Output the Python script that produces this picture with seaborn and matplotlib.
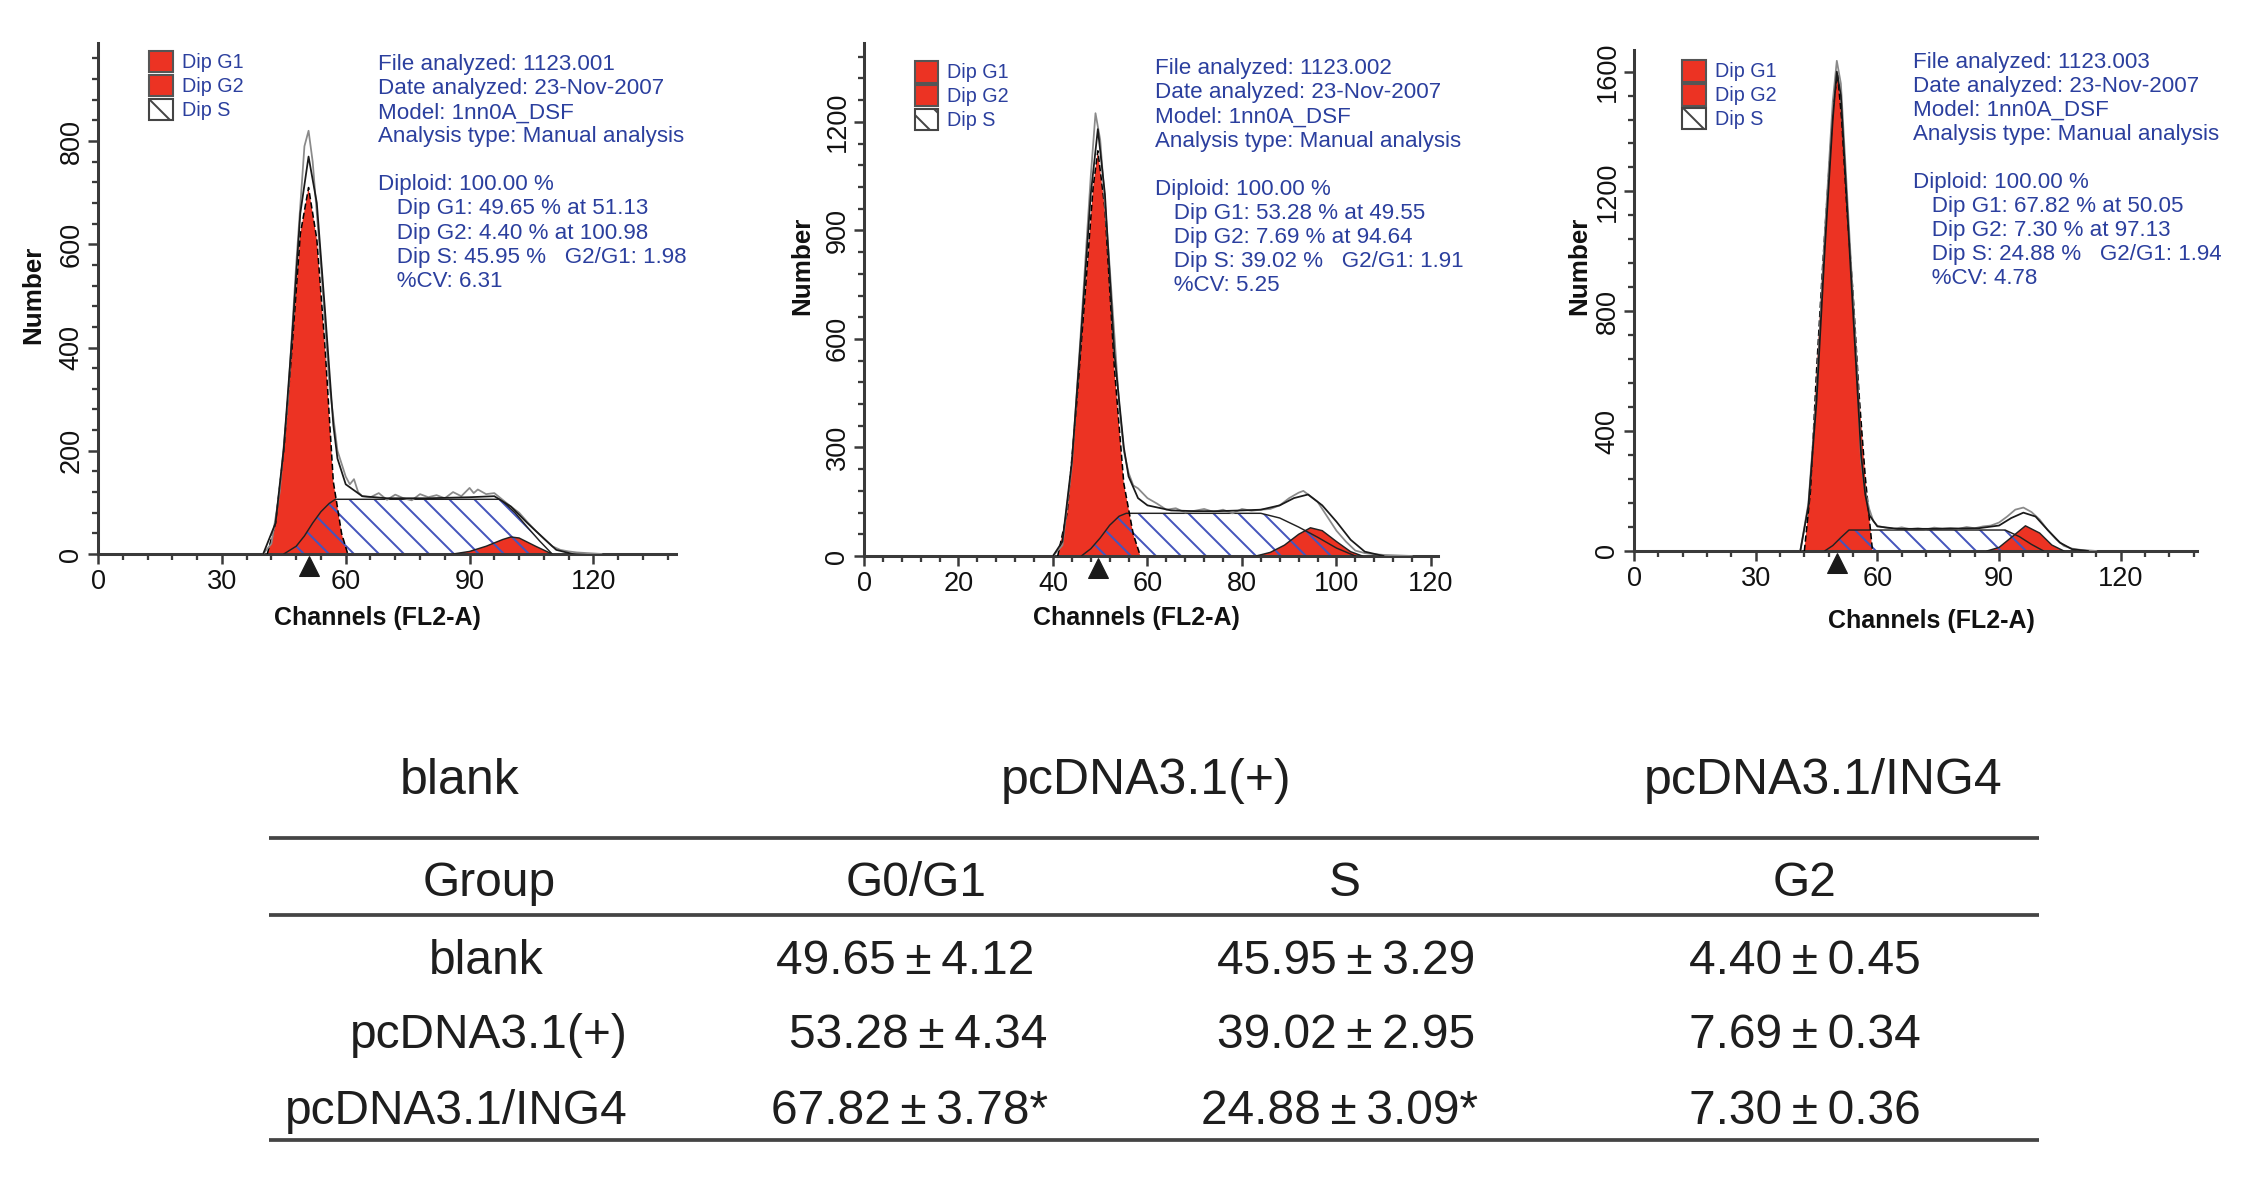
import matplotlib
matplotlib.use("Agg")
import matplotlib.pyplot as plt
import matplotlib.transforms as mtrans
from matplotlib.patches import Patch
from matplotlib.ticker import MultipleLocator
import numpy as np
import pandas as pd
import seaborn as sns

sns.set_style("ticks")
plt.rcParams['font.family'] = ['Liberation Sans', 'DejaVu Sans']
plt.rcParams['hatch.linewidth'] = 1.9

# --- table / annotation values ---
groups = ['blank', 'pcDNA3.1(+)', 'pcDNA3.1/ING4']
file_ids = ['1123.001', '1123.002', '1123.003']
g1_pct = [49.65, 53.28, 67.82]
g1_sd = [4.12, 4.34, 3.78]
s_pct = [45.95, 39.02, 24.88]
s_sd = [3.29, 2.95, 3.09]
g2_pct = [4.40, 7.69, 7.30]
g2_sd = [0.45, 0.34, 0.36]
signif = [False, False, True]
g1_at = [51.13, 49.55, 50.05]
g2_at = [100.98, 94.64, 97.13]
g2g1 = [1.98, 1.91, 1.94]
cv = [6.31, 5.25, 4.78]

# --- histogram curves (channel, count) ---
# blank
p1_g1_ch = [41, 43, 45, 47, 49, 51, 53, 55, 57, 59, 60.5]
p1_g1_n = [0, 60, 200, 400, 620, 710, 610, 400, 140, 40, 0]
p1_s_ch = [45, 48, 50, 52, 54, 56, 57.5, 97.5, 101, 104, 107, 110]
p1_s_n = [0, 15, 35, 60, 82, 98, 106, 106, 80, 52, 25, 0]
p1_g2_ch = [86, 90, 94, 98, 100, 102, 106, 110]
p1_g2_n = [0, 5, 15, 28, 33, 31, 15, 0]
p1_fit_ch = [40, 43, 45, 47, 49, 51, 53, 55, 57, 58, 60, 64, 70, 80, 90, 96, 100, 104, 108, 111, 115]
p1_fit_n = [0, 60, 205, 420, 660, 770, 680, 470, 250, 185, 135, 112, 108, 108, 110, 112, 92, 60, 30, 8, 0]
p1_raw_ch = [40, 42, 44, 46, 48, 50, 51, 52, 54, 56, 58, 60, 61, 62, 63, 64, 66, 68, 70, 72, 74, 76,
             78, 80, 82, 84, 86, 88, 90, 91, 92, 94, 96, 98, 100, 102, 104, 106, 108, 110, 112,
             114, 116, 118, 120, 122]
p1_raw_n = [0, 20, 120, 300, 560, 790, 820, 760, 560, 330, 200, 150, 135, 145, 120, 112, 110, 118,
            105, 115, 108, 104, 116, 110, 114, 108, 120, 112, 128, 118, 125, 116, 118, 105, 92, 80,
            62, 45, 30, 15, 8, 5, 3, 2, 1, 0]

# pcDNA3.1(+)
p2_g1_ch = [41, 43, 45, 47, 48.5, 49.5, 51, 53, 55, 57, 58.5]
p2_g1_n = [0, 120, 420, 760, 1020, 1120, 960, 520, 200, 60, 0]
p2_s_ch = [46, 48, 50, 52, 54, 55.5, 84, 88, 92, 96, 100, 104]
p2_s_n = [0, 20, 50, 85, 110, 118, 118, 105, 80, 52, 22, 0]
p2_g2_ch = [83, 86, 89, 92, 94.5, 97, 100, 103, 105.5]
p2_g2_n = [0, 10, 30, 60, 78, 70, 40, 12, 0]
p2_fit_ch = [40, 42, 44, 46, 48, 49.5, 51, 53, 55, 56, 58, 60, 65, 70, 75, 80, 84, 88, 91, 94,
             97, 100, 103, 106, 110]
p2_fit_n = [0, 40, 260, 620, 1000, 1180, 1000, 560, 300, 220, 160, 140, 126, 124, 124, 126, 128,
            140, 160, 170, 140, 95, 45, 12, 0]
p2_raw_ch = [40, 42, 44, 46, 48, 49, 50, 52, 54, 55, 56, 57, 58, 60, 62, 64, 66, 68, 70, 72, 74,
             76, 78, 80, 82, 84, 86, 88, 90, 92, 93, 94, 96, 98, 100, 102, 104, 106, 108, 110,
             112, 114, 116]
p2_raw_n = [0, 30, 250, 640, 1050, 1224, 1150, 800, 420, 290, 230, 195, 187, 160, 145, 128, 132,
            120, 125, 130, 122, 128, 118, 130, 125, 128, 130, 140, 160, 175, 180, 170, 150, 110,
            70, 40, 15, 8, 5, 3, 2, 1, 0]

# pcDNA3.1/ING4
p3_g1_ch = [42, 43.5, 45, 46.5, 48, 49.2, 50.2, 51.2, 52.5, 54, 55.5, 57, 58.8]
p3_g1_n = [0, 200, 600, 950, 1260, 1500, 1590, 1440, 1140, 860, 520, 250, 0]
p3_s_ch = [47, 49, 51, 53, 91.5, 95, 98, 101]
p3_s_n = [0, 18, 45, 70, 70, 48, 22, 0]
p3_g2_ch = [87, 90, 93, 96.5, 100, 103, 106]
p3_g2_n = [0, 12, 45, 84, 60, 20, 0]
p3_fit_ch = [41, 43, 45, 47, 49, 50, 51, 53, 55, 56, 57, 58, 60, 65, 75, 85, 90, 93, 96, 99,
             102, 105, 108, 112]
p3_fit_n = [0, 150, 500, 1000, 1440, 1600, 1520, 1040, 560, 320, 190, 120, 82, 74, 74, 76, 85,
            110, 128, 115, 70, 28, 6, 0]
p3_raw_ch = [41, 43, 45, 47, 49, 50, 51, 53, 55, 56, 57, 58, 59, 60, 62, 64, 66, 68, 70, 72, 74,
             76, 78, 80, 82, 84, 86, 88, 90, 92, 94, 96, 98, 100, 102, 104, 106, 108, 110, 112, 114]
p3_raw_n = [0, 160, 520, 1050, 1500, 1636, 1560, 1080, 600, 300, 200, 140, 100, 84, 78, 74, 79,
            73, 76, 72, 78, 75, 77, 74, 80, 76, 82, 85, 95, 115, 138, 145, 130, 105, 70, 40, 17,
            8, 4, 2, 0]

panels = [
    dict(g1=(p1_g1_ch, p1_g1_n), s=(p1_s_ch, p1_s_n), g2=(p1_g2_ch, p1_g2_n),
         fit=(p1_fit_ch, p1_fit_n), raw=(p1_raw_ch, p1_raw_n),
         rect=(98, 43, 676, 554), xlim=140, ylim=990, xstep=30, ystep=200,
         leg=(0.088, 0.985), txt=(0.485, 0.978), ylab=(-0.112, 0.507), xlab=(0.483, -0.125)),
    dict(g1=(p2_g1_ch, p2_g1_n), s=(p2_s_ch, p2_s_n), g2=(p2_g2_ch, p2_g2_n),
         fit=(p2_fit_ch, p2_fit_n), raw=(p2_raw_ch, p2_raw_n),
         rect=(864, 43, 1438, 556), xlim=121.5, ylim=1418, xstep=20, ystep=300,
         leg=(0.088, 0.965), txt=(0.507, 0.97), ylab=(-0.107, 0.566), xlab=(0.474, -0.12)),
    dict(g1=(p3_g1_ch, p3_g1_n), s=(p3_s_ch, p3_s_n), g2=(p3_g2_ch, p3_g2_n),
         fit=(p3_fit_ch, p3_fit_n), raw=(p3_raw_ch, p3_raw_n),
         rect=(1634, 50, 2197, 551), xlim=138.8, ylim=1672, xstep=30, ystep=400,
         leg=(0.085, 0.98), txt=(0.495, 0.996), ylab=(-0.097, 0.569), xlab=(0.528, -0.14)),
]

W, H, DPI = 2244, 1181, 75
RED = '#EC3323'
HATCH = '#4555bd'
BLUE_TXT = '#2b3f9e'
AXC = '#3a3a3a'

fig = plt.figure(figsize=(W / DPI, H / DPI), dpi=DPI)
fig.patch.set_facecolor('white')

for i, p in enumerate(panels):
    l, t, r, b = p['rect']
    ax = fig.add_axes([l / W, 1 - b / H, (r - l) / W, (b - t) / H])
    ax.set_facecolor('none')

    g1 = pd.DataFrame({'ch': p['g1'][0], 'n': p['g1'][1]})
    s = pd.DataFrame({'ch': p['s'][0], 'n': p['s'][1]})
    g2 = pd.DataFrame({'ch': p['g2'][0], 'n': p['g2'][1]})
    fit = pd.DataFrame({'ch': p['fit'][0], 'n': p['fit'][1]})
    raw = pd.DataFrame({'ch': p['raw'][0], 'n': p['raw'][1]})

    ax.fill_between(g1['ch'], 0, g1['n'], facecolor=RED, edgecolor='none', zorder=1)
    ax.fill_between(g2['ch'], 0, g2['n'], facecolor=RED, edgecolor='none', zorder=1)
    ax.fill_between(s['ch'], 0, s['n'], facecolor='none', edgecolor=HATCH, hatch='\\',
                    linewidth=0, zorder=2)

    sns.lineplot(data=s, x='ch', y='n', ax=ax, color='#222222', lw=1.4, sort=False,
                 estimator=None, zorder=3)
    sns.lineplot(data=g2, x='ch', y='n', ax=ax, color='#222222', lw=1.4, sort=False,
                 estimator=None, zorder=3)
    sns.lineplot(data=g1, x='ch', y='n', ax=ax, color='black', lw=1.5, ls=(0, (4, 2)),
                 sort=False, estimator=None, zorder=3)
    sns.lineplot(data=raw, x='ch', y='n', ax=ax, color='#8a8a8a', lw=1.7, sort=False,
                 estimator=None, zorder=4)
    sns.lineplot(data=fit, x='ch', y='n', ax=ax, color='#1a1a1a', lw=1.7, sort=False,
                 estimator=None, zorder=4)

    # G1 mean marker under the axis
    trans = mtrans.blended_transform_factory(ax.transData, ax.transAxes)
    ax.plot([g1_at[i]], [-0.024], marker='^', ms=19, color='#1a1a1a', transform=trans,
            clip_on=False, zorder=6)

    ax.set_xlim(0, p['xlim'])
    ax.set_ylim(0, p['ylim'])
    ax.xaxis.set_major_locator(MultipleLocator(p['xstep']))
    ax.xaxis.set_minor_locator(MultipleLocator(p['xstep'] / 5))
    ax.yaxis.set_major_locator(MultipleLocator(p['ystep']))
    ax.yaxis.set_minor_locator(MultipleLocator(p['ystep'] / 5))
    ax.tick_params(which='major', length=10, width=2.4, color=AXC, labelsize=26,
                   labelcolor='#111111', pad=4)
    ax.tick_params(which='minor', length=6, width=2.2, color=AXC)
    ax.tick_params(axis='y', labelrotation=90, pad=3)
    for lab in ax.get_yticklabels():
        lab.set_va('center')
    sns.despine(ax=ax)
    for sp in ['left', 'bottom']:
        ax.spines[sp].set_color(AXC)
        ax.spines[sp].set_linewidth(2.9)

    ax.set_xlabel('Channels (FL2-A)', fontsize=24, fontweight='bold', color='#111111')
    ax.set_ylabel('Number', fontsize=25, fontweight='bold', color='#111111')
    ax.xaxis.set_label_coords(*p['xlab'])
    ax.yaxis.set_label_coords(*p['ylab'])
    ax.xaxis.label.set_va('center')
    ax.yaxis.label.set_va('center')

    handles = [Patch(facecolor=RED, edgecolor='#555555', lw=2.0, label='Dip G1'),
               Patch(facecolor=RED, edgecolor='#555555', lw=2.0, label='Dip G2'),
               Patch(facecolor='white', edgecolor='#444444', lw=2.0, hatch='\\', label='Dip S')]
    ax.legend(handles=handles, loc='upper left', bbox_to_anchor=p['leg'], frameon=False,
              fontsize=19, labelcolor=BLUE_TXT, handlelength=1.2, handleheight=1.3,
              labelspacing=0.12, handletextpad=0.45, borderpad=0, borderaxespad=0)

    info = (f"File analyzed: {file_ids[i]}\n"
            f"Date analyzed: 23-Nov-2007\n"
            f"Model: 1nn0A_DSF\n"
            f"Analysis type: Manual analysis\n\n"
            f"Diploid: 100.00 %\n"
            f"   Dip G1: {g1_pct[i]:.2f} % at {g1_at[i]:.2f}\n"
            f"   Dip G2: {g2_pct[i]:.2f} % at {g2_at[i]:.2f}\n"
            f"   Dip S: {s_pct[i]:.2f} %   G2/G1: {g2g1[i]:.2f}\n"
            f"   %CV: {cv[i]:.2f}")
    ax.text(p['txt'][0], p['txt'][1], info, transform=ax.transAxes, ha='left', va='top',
            fontsize=21.5, color=BLUE_TXT, linespacing=1.19)

# --- summary table under the histograms ---
tax = fig.add_axes([0, 0, 1, 1])
tax.set_xlim(0, W)
tax.set_ylim(H, 0)
tax.axis('off')

TXT = '#1e1e1e'
FS = 46
title_x = [460, 1146, 1823]
for name, x in zip(groups, title_x):
    tax.text(x, 781, name, ha='center', va='center', fontsize=48, color=TXT)

for y in [838, 915, 1140]:
    tax.plot([269, 2039], [y, y], color='#444444', lw=3.6, solid_capstyle='butt')

col_x = [489, 916, 1345, 1805]
for name, x in zip(['Group', 'G0/G1', 'S', 'G2'], col_x):
    tax.text(x, 884, name, ha='center', va='center', fontsize=FS, color=TXT)

PM = '\u2009\u00b1\u2009'
row_y = [961, 1035, 1112]
label_x = [486, 489, 456]
g1_x = [905, 918, 910]
s_x = [1346, 1346, 1340]
for k in range(3):
    star = '*' if signif[k] else ''
    tax.text(label_x[k], row_y[k], groups[k], ha='center', va='center', fontsize=FS, color=TXT)
    tax.text(g1_x[k], row_y[k], f"{g1_pct[k]:.2f}{PM}{g1_sd[k]:.2f}{star}", ha='center',
             va='center', fontsize=FS, color=TXT)
    tax.text(s_x[k], row_y[k], f"{s_pct[k]:.2f}{PM}{s_sd[k]:.2f}{star}", ha='center',
             va='center', fontsize=FS, color=TXT)
    tax.text(1805, row_y[k], f"{g2_pct[k]:.2f}{PM}{g2_sd[k]:.2f}", ha='center',
             va='center', fontsize=FS, color=TXT)

fig.savefig('out.png', dpi=DPI, facecolor='white')
